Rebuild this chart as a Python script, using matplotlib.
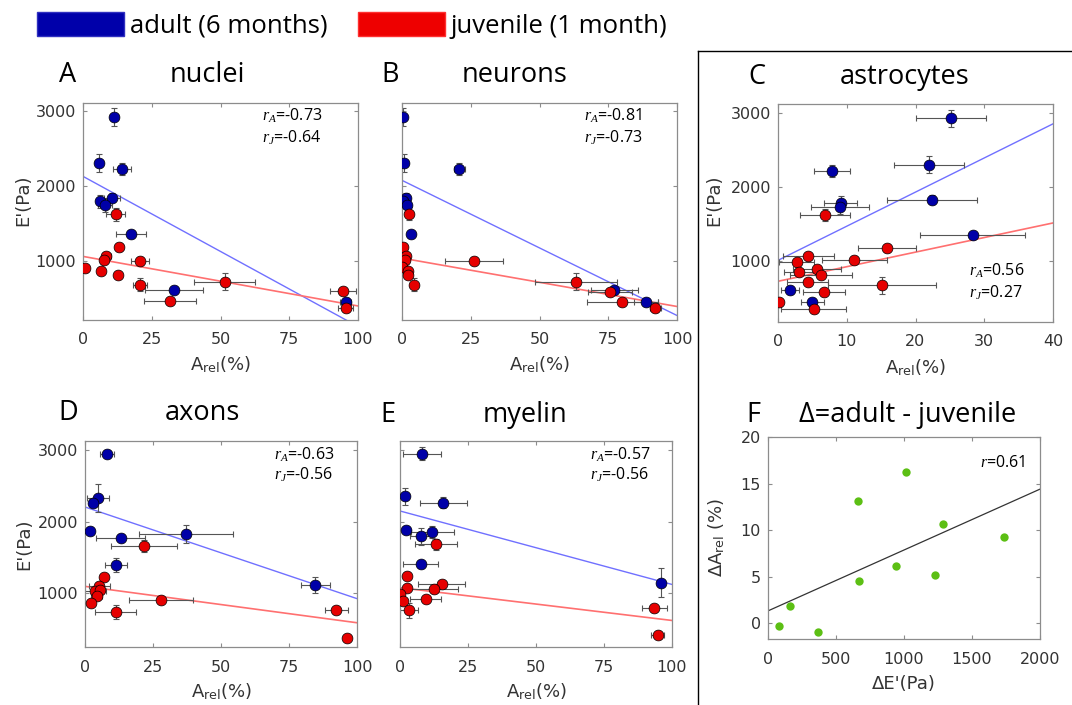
import numpy as np
import matplotlib
matplotlib.use("Agg")
import matplotlib.pyplot as plt
from matplotlib.patches import Patch
from matplotlib.lines import Line2D

# values: A_rel (%) and E' (Pa), with error bars
# A - nuclei
nuc_ad_x = [11.4, 5.7, 14.2, 10.6, 6.2, 8.0, 17.4, 33.0, 95.5]
nuc_ad_E = [2925, 2310, 2230, 1845, 1800, 1745, 1365, 625, 460]
nuc_ad_xerr = [1.5, 1.0, 3.2, 3.0, 1.0, 2.5, 5.5, 10.5, 2.0]
nuc_ad_Eerr = [115, 115, 80, 60, 90, 90, 50, 50, 50]
nuc_ju_x = [11.9, 13.1, 8.5, 7.8, 20.8, 0.8, 6.7, 12.6, 20.6, 51.5, 31.6, 94.5, 95.5]
nuc_ju_E = [1630, 1190, 1075, 1020, 1005, 915, 870, 825, 690, 730, 470, 600, 380]
nuc_ju_xerr = [3.5, 1.5, 1.5, 1.0, 3.2, 0.5, 1.0, 1.0, 2.5, 11.0, 9.5, 4.7, 2.8]
nuc_ju_Eerr = [85, 50, 50, 50, 50, 40, 40, 40, 90, 110, 40, 40, 50]
nuc_fit = [(2133, -20.0), (1067, -6.6)]
nuc_r = ["-0.73", "-0.64"]

# B - neurons
neu_ad_x = [0.5, 0.85, 20.8, 1.6, 0.5, 1.9, 3.2, 77.2, 88.7]
neu_ad_E = [2925, 2310, 2225, 1845, 1800, 1745, 1360, 625, 460]
neu_ad_xerr = [0.5, 0.5, 2.0, 0.5, 0.5, 0.5, 0.8, 8.5, 4.5]
neu_ad_Eerr = [115, 115, 80, 60, 90, 90, 50, 50, 50]
neu_ju_x = [2.5, 0.4, 1.6, 1.2, 26.2, 0.0, 2.0, 2.3, 4.2, 63.2, 75.8, 80.1, 92.0]
neu_ju_E = [1635, 1190, 1075, 1020, 1010, 920, 870, 825, 690, 730, 590, 465, 380]
neu_ju_xerr = [0.8, 0.5, 0.5, 0.5, 10.5, 0.3, 0.5, 0.5, 1.0, 15.0, 8.0, 13.0, 2.0]
neu_ju_Eerr = [85, 50, 50, 50, 50, 40, 40, 40, 90, 110, 40, 40, 50]
neu_fit = [(2080, -18.0), (1044, -6.44)]
neu_r = ["-0.81", "-0.73"]

# C - astrocytes
ast_ad_x = [25.1, 21.9, 7.9, 22.4, 9.1, 9.0, 28.3, 1.8, 5.0]
ast_ad_E = [2930, 2305, 2225, 1830, 1790, 1730, 1350, 610, 450]
ast_ad_xerr = [5.1, 5.1, 2.6, 6.6, 2.4, 4.2, 7.6, 1.3, 1.7]
ast_ad_Eerr = [115, 115, 80, 60, 90, 90, 50, 50, 50]
ast_ju_x = [6.8, 15.9, 4.4, 2.7, 11.1, 5.7, 3.1, 6.3, 4.3, 15.1, 6.7, 0.1, 5.2]
ast_ju_E = [1625, 1180, 1065, 995, 1015, 900, 850, 815, 715, 675, 580, 450, 355]
ast_ju_xerr = [3.6, 4.2, 3.7, 2.5, 4.7, 3.5, 2.3, 4.5, 3.0, 7.9, 3.0, 0.2, 4.7]
ast_ju_Eerr = [85, 50, 50, 50, 50, 40, 40, 40, 40, 110, 40, 40, 40]
ast_fit = [(1013, 46.1), (730, 19.7)]
ast_r = ["0.56", "0.27"]

# D - axons
axo_ad_x = [8.0, 4.7, 2.8, 1.8, 13.1, 37.0, 11.3, 84.7]
axo_ad_E = [2950, 2335, 2260, 1875, 1775, 1830, 1390, 1115]
axo_ad_xerr = [2.5, 4.0, 1.5, 1.0, 9.0, 17.3, 4.0, 5.2]
axo_ad_Eerr = [50, 200, 60, 50, 50, 130, 100, 115]
axo_ju_x = [21.7, 7.0, 5.3, 3.7, 5.5, 4.3, 2.2, 27.8, 11.3, 92.4, 96.3]
axo_ju_E = [1660, 1220, 1105, 1035, 1045, 955, 865, 900, 730, 755, 375]
axo_ju_xerr = [12.2, 1.5, 4.0, 4.0, 1.5, 2.0, 1.0, 11.8, 7.6, 4.3, 1.0]
axo_ju_Eerr = [80, 50, 50, 50, 50, 50, 40, 40, 100, 50, 40]
axo_fit = [(2206, -12.85), (1093, -5.1)]
axo_r = ["-0.63", "-0.56"]

# E - myelin
mye_ad_x = [8.0, 2.0, 15.9, 2.1, 11.9, 7.8, 7.6, 95.8]
mye_ad_E = [2950, 2355, 2265, 1890, 1855, 1795, 1405, 1145]
mye_ad_xerr = [7.0, 1.0, 8.6, 1.0, 8.0, 4.0, 6.4, 1.0]
mye_ad_Eerr = [90, 120, 80, 50, 80, 120, 50, 200]
mye_ju_x = [13.2, 2.7, 15.3, 2.6, 12.4, 0.0, 9.4, 1.1, 3.4, 93.5, 94.7]
mye_ju_E = [1680, 1245, 1125, 1075, 1055, 990, 920, 885, 755, 785, 405]
mye_ju_xerr = [7.6, 1.0, 8.6, 1.0, 9.0, 0.5, 5.8, 1.5, 3.4, 4.6, 2.5]
mye_ju_Eerr = [80, 50, 50, 50, 50, 50, 40, 40, 100, 50, 40]
mye_fit = [(2150, -10.3), (1075, -4.6)]
mye_r = ["-0.57", "-0.56"]

# F - differences adult - juvenile
delta_E = [83, 160, 366, 663, 672, 1018, 940, 1288, 1227, 1735]
delta_A = [-0.3, 1.8, -1.0, 13.1, 4.5, 16.2, 6.1, 10.7, 5.2, 9.25]
delta_fit = (1.32, 0.00654)
delta_r = "0.61"

BLUE = "#0000a8"
RED = "#e60000"
GRID = "#8c8c8c"
TXT = "#333333"

plt.rcParams["font.family"] = ["DejaVu Sans"]
plt.rcParams["mathtext.fontset"] = "custom"
plt.rcParams["mathtext.rm"] = "DejaVu Sans"
plt.rcParams["mathtext.it"] = "Liberation Serif:italic"
plt.rcParams["mathtext.bf"] = "DejaVu Sans:bold"

W, H = 1072, 705
fig = plt.figure(figsize=(W / 100, H / 100), dpi=100)


def box(left, top, right, bottom):
    return [left / W, 1 - bottom / H, (right - left) / W, (bottom - top) / H]


def style(ax, xlim, ylim, xticks, yticks, ylabels=True):
    ax.set_xlim(*xlim)
    ax.set_ylim(*ylim)
    ax.set_xticks(xticks)
    ax.set_yticks(yticks)
    if not ylabels:
        ax.set_yticklabels([])
    for s in ax.spines.values():
        s.set_color(GRID)
        s.set_linewidth(0.9)
    ax.tick_params(direction="in", top=True, right=True, length=3, width=0.8,
                   color=GRID, labelcolor=TXT, labelsize=11.5)
    ax.tick_params(axis="x", pad=9)
    ax.tick_params(axis="y", pad=5)


def cells(ax, xa, Ea, xae, Eae, xj, Ej, xje, Eje, fit, r, rpos):
    xs = np.array(ax.get_xlim())
    (ba, ma), (bj, mj) = fit
    ax.plot(xs, ba + ma * xs, color="#7070ff", lw=1.0, zorder=1)
    ax.plot(xs, bj + mj * xs, color="#ff7070", lw=1.2, zorder=1)
    for x, E, xe, Ee, c in [(xa, Ea, xae, Eae, BLUE), (xj, Ej, xje, Eje, RED)]:
        ax.errorbar(x, E, xerr=xe, yerr=Ee, fmt="none", ecolor="#555555",
                    elinewidth=0.8, capsize=2, capthick=0.8, zorder=2)
        ax.plot(x, E, "o", ms=7.8, mfc=c, mec="black", mew=0.5, zorder=3)
    ax.text(rpos[0], rpos[1], r"$r_A$=" + r[0], transform=ax.transAxes,
            family="Open Sans", fontsize=11.5, va="center")
    ax.text(rpos[0], rpos[1] - 0.1, r"$r_J$=" + r[1], transform=ax.transAxes,
            family="Open Sans", fontsize=11.5, va="center")


def titles(letter, lx, name, nx, y):
    fig.text(lx / W, 1 - y / H, letter, ha="center", va="center",
             family="Open Sans", fontsize=19.5)
    fig.text(nx / W, 1 - y / H, name, ha="center", va="center",
             family="Open Sans", fontsize=19.5)


xl = "A$_{\\mathrm{rel}}$(%)"
yl = "E'(Pa)"
pct = [0, 25, 50, 75, 100]
ept = [1000, 2000, 3000]

axA = fig.add_axes(box(83, 103, 358, 320))
style(axA, (0, 100), (220, 3110), pct, ept)
cells(axA, nuc_ad_x, nuc_ad_E, nuc_ad_xerr, nuc_ad_Eerr,
      nuc_ju_x, nuc_ju_E, nuc_ju_xerr, nuc_ju_Eerr, nuc_fit, nuc_r, (0.65, 0.94))
axA.set_ylabel(yl, fontsize=13, color=TXT)
axA.yaxis.set_label_coords(-0.185, 0.55)
axA.set_xlabel(xl, fontsize=13, color=TXT)
axA.xaxis.set_label_coords(0.5, -0.16)
titles("A", 68, "nuclei", 207, 75)

axB = fig.add_axes(box(402, 103, 677, 320))
style(axB, (0, 100), (220, 3110), pct, ept, ylabels=False)
cells(axB, neu_ad_x, neu_ad_E, neu_ad_xerr, neu_ad_Eerr,
      neu_ju_x, neu_ju_E, neu_ju_xerr, neu_ju_Eerr, neu_fit, neu_r, (0.66, 0.94))
axB.set_xlabel(xl, fontsize=13, color=TXT)
axB.xaxis.set_label_coords(0.5, -0.16)
titles("B", 390, "neurons", 515, 75)

axC = fig.add_axes(box(778, 104, 1053, 322))
style(axC, (0, 40), (180, 3125), [0, 10, 20, 30, 40], ept)
cells(axC, ast_ad_x, ast_ad_E, ast_ad_xerr, ast_ad_Eerr,
      ast_ju_x, ast_ju_E, ast_ju_xerr, ast_ju_Eerr, ast_fit, ast_r, (0.695, 0.235))
axC.set_ylabel(yl, fontsize=13, color=TXT)
axC.yaxis.set_label_coords(-0.2, 0.56)
axC.set_xlabel(xl, fontsize=13, color=TXT)
axC.xaxis.set_label_coords(0.5, -0.16)
titles("C", 757, "astrocytes", 905, 77)

axD = fig.add_axes(box(85, 441, 357, 647))
style(axD, (0, 100), (243, 3131), pct, ept)
cells(axD, axo_ad_x, axo_ad_E, axo_ad_xerr, axo_ad_Eerr,
      axo_ju_x, axo_ju_E, axo_ju_xerr, axo_ju_Eerr, axo_fit, axo_r, (0.695, 0.935))
axD.set_ylabel(yl, fontsize=13, color=TXT)
axD.yaxis.set_label_coords(-0.19, 0.5)
axD.set_xlabel(xl, fontsize=13, color=TXT)
axD.xaxis.set_label_coords(0.5, -0.165)
titles("D", 68, "axons", 202, 413)

axE = fig.add_axes(box(400, 441, 672, 647))
style(axE, (0, 100), (243, 3131), pct, ept, ylabels=False)
cells(axE, mye_ad_x, mye_ad_E, mye_ad_xerr, mye_ad_Eerr,
      mye_ju_x, mye_ju_E, mye_ju_xerr, mye_ju_Eerr, mye_fit, mye_r, (0.70, 0.935))
axE.set_xlabel(xl, fontsize=13, color=TXT)
axE.xaxis.set_label_coords(0.5, -0.165)
titles("E", 388, "myelin", 525, 415)

axF = fig.add_axes(box(768, 437, 1040, 639))
style(axF, (0, 2000), (-1.7, 20), [0, 500, 1000, 1500, 2000], [0, 5, 10, 15, 20])
xs = np.array(axF.get_xlim())
axF.plot(xs, delta_fit[0] + delta_fit[1] * xs, color="#333333", lw=0.9, zorder=1)
axF.plot(delta_E, delta_A, "o", ms=6, color="#5cbf14", mec="none", zorder=3)
axF.text(0.78, 0.87, r"$r$=" + delta_r, transform=axF.transAxes,
         family="Open Sans", fontsize=11.5, va="center")
axF.set_ylabel("\u0394A$_{\\mathrm{rel}}$ (%)", fontsize=13, color=TXT)
axF.yaxis.set_label_coords(-0.15, 0.5)
axF.set_xlabel("\u0394E'(Pa)", fontsize=13, color=TXT)
axF.xaxis.set_label_coords(0.5, -0.18)
titles("F", 753, "\u0394=adult - juvenile", 908, 415)

# frame around C and F
fig.add_artist(Line2D([698 / W, 698 / W], [0, 1 - 51 / H], color="black", lw=1))
fig.add_artist(Line2D([698 / W, 1], [1 - 51 / H, 1 - 51 / H], color="black", lw=1))

handles = [Patch(facecolor="#0000aa", edgecolor="#3030c0", label="adult (6 months)"),
           Patch(facecolor="#ee0000", edgecolor="#ff3030", label="juvenile (1 month)")]
fig.legend(handles=handles, loc="upper left", bbox_to_anchor=(37 / W, 1 - 12 / H),
           ncol=2, frameon=False, borderpad=0, borderaxespad=0,
           handlelength=3.4, handleheight=1.05, handletextpad=0.2,
           columnspacing=1.2, prop={"family": "Open Sans", "size": 18.5})

fig.savefig("out.png", dpi=100)
